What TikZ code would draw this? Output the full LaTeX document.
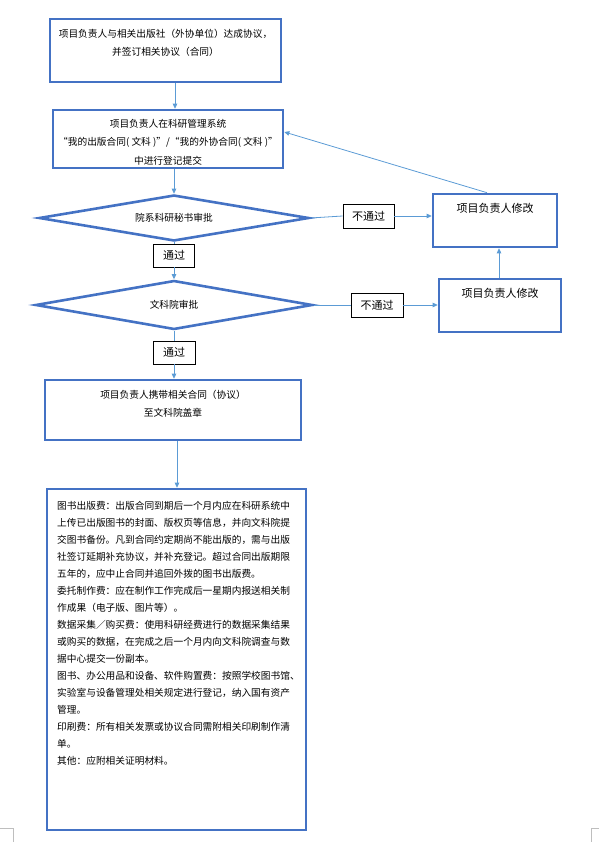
\documentclass[tikz,border=0pt]{standalone}
\usepackage{fontspec}
\setmainfont{Noto Sans CJK SC}
\usetikzlibrary{shapes.geometric,arrows.meta,calc}
\definecolor{boxblue}{RGB}{68,114,196}
\definecolor{linkblue}{RGB}{91,155,213}
\definecolor{markgray}{RGB}{190,190,190}
\begin{document}
\begin{tikzpicture}[x=1pt,y=-1pt,
  bluebox/.style={draw=boxblue, line width=2.6pt, fill=white, inner sep=0pt},
  decision/.style={diamond, draw=boxblue, line width=2.6pt, fill=white, inner sep=0pt, aspect=5.7, font=\fontsize{9.7}{12}\selectfont},
  tag/.style={draw=black, line width=0.7pt, fill=white, inner sep=0pt, font=\fontsize{11}{13}\selectfont},
  boxtext/.style={align=center, inner sep=0pt, font=\fontsize{9.7}{18.5}\selectfont},
  revtext/.style={inner sep=0pt, font=\fontsize{11}{13}\selectfont},
  notetext/.style={align=left, inner sep=0pt, font=\fontsize{9.7}{17}\selectfont},
  link/.style={draw=linkblue, line width=0.8pt},
  arrowlink/.style={link, -{Triangle[length=5pt,width=4.5pt]}},
  cropmark/.style={draw=markgray, line width=0.8pt}
]
\useasboundingbox (0,0) rectangle (599,842);

% helper coordinates
\coordinate (x175) at (175,0);
\coordinate (x177) at (177,0);
\coordinate (x487) at (487,0);
\coordinate (x499) at (499,0);
\coordinate (y132) at (0,132);

% boxes
\node[bluebox, minimum width=231pt, minimum height=63pt] (b1) at (165.5,50.5) {};
\node[boxtext] (t1) at (165.5,43) {项目负责人与相关出版社（外协单位）达成协议，\\并签订相关协议（合同）};

\node[bluebox, minimum width=230pt, minimum height=58pt] (b2) at (168,139) {};
\node[boxtext] (t2) at (168,142) {项目负责人在科研管理系统\\“我的出版合同( 文科 )”/“我的外协合同( 文科 )”\\中进行登记提交};

\node[decision, minimum width=270pt, minimum height=46pt] (d1) at (174,218) {院系科研秘书审批};
\node[tag, minimum width=51pt, minimum height=24pt] (L1) at (368.5,216) {不通过};

\node[bluebox, minimum width=124pt, minimum height=53pt] (r1) at (495,220.5) {};
\node[revtext] (rt1) at (495,208) {项目负责人修改};

\node[tag, minimum width=41pt, minimum height=23pt] (P1) at (174,255.5) {通过};

\node[decision, minimum width=277pt, minimum height=49pt] (d2) at (174,305) {文科院审批};
\node[tag, minimum width=52pt, minimum height=24pt] (L2) at (377,305) {不通过};

\node[bluebox, minimum width=122pt, minimum height=53pt] (r2) at (500,305.5) {};
\node[revtext] (rt2) at (500,293) {项目负责人修改};

\node[tag, minimum width=42pt, minimum height=23pt] (P2) at (174,352.5) {通过};

\node[bluebox, minimum width=256pt, minimum height=60pt] (b3) at (173,410) {};
\node[boxtext] (t3) at (173,403.5) {项目负责人携带相关合同（协议）\\至文科院盖章};

\node[bluebox, minimum width=259pt, minimum height=341pt] (b4) at (176.5,659.5) {};
\node[notetext, anchor=north west] (t4) at (57,501) {图书出版费：出版合同到期后一个月内应在科研系统中\\
上传已出版图书的封面、版权页等信息，并向文科院提\\
交图书备份。凡到合同约定期尚不能出版的，需与出版\\
社签订延期补充协议，并补充登记。超过合同出版期限\\
五年的，应中止合同并追回外拨的图书出版费。\\
委托制作费：应在制作工作完成后一星期内报送相关制\\
作成果（电子版、图片等）。\\
数据采集／购买费：使用科研经费进行的数据采集结果\\
或购买的数据，在完成之后一个月内向文科院调查与数\\
据中心提交一份副本。\\
图书、办公用品和设备、软件购置费：按照学校图书馆、\\
实验室与设备管理处相关规定进行登记，纳入国有资产\\
管理。\\
印刷费：所有相关发票或协议合同需附相关印刷制作清\\
单。\\
其他：应附相关证明材料。};

% connectors
\draw[arrowlink] (b1.south -| x175) -- (b2.north -| x175);
\draw[arrowlink] (b2.south -| d1.north) -- (d1.north);
\draw[link] (d1.east) -- (L1.west);
\draw[arrowlink] (L1.east) -- (r1.west |- L1.east);
\draw[arrowlink] (r1.north -| x487) -- (b2.east |- y132);
\draw[link] (d1.south) -- (P1.north);
\draw[arrowlink] (P1.south) -- (d2.north);
\draw[link] (d2.east) -- (L2.west);
\draw[arrowlink] (L2.east) -- (r2.west |- L2.east);
\draw[arrowlink] (r2.north -| x499) -- (r1.south -| x499);
\draw[link] (d2.south) -- (P2.north);
\draw[arrowlink] (P2.south) -- (b3.north -| P2.south);
\draw[arrowlink] (b3.south -| x177) -- (b4.north -| x177);

% page corner marks
\draw[cropmark] (0,828) -- (13,828) -- (13,842);
\draw[cropmark] (599,828) -- (591,828) -- (591,842);
\end{tikzpicture}
\end{document}
